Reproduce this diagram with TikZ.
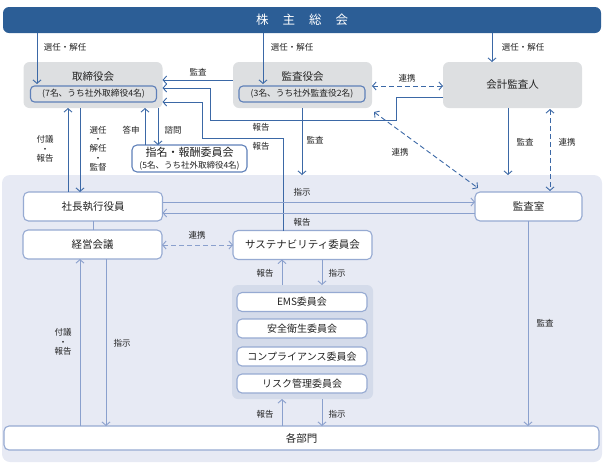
\documentclass[tikz,border=0pt]{standalone}
\usepackage{fontspec}
\setmainfont{Noto Sans CJK JP}
\usetikzlibrary{arrows.meta}
\definecolor{barblue}{RGB}{44,94,150}
\definecolor{dline}{RGB}{59,104,166}
\definecolor{lline}{RGB}{138,160,205}
\definecolor{gbox}{RGB}{221,223,225}
\definecolor{lowbg}{RGB}{231,234,244}
\definecolor{grpbg}{RGB}{212,219,234}
\definecolor{wborder}{RGB}{150,170,210}
\definecolor{iborder}{RGB}{95,128,185}
\definecolor{txt}{RGB}{34,34,34}
\begin{document}
\begin{tikzpicture}[x=1pt,y=-1pt,
  every node/.style={text=txt, inner sep=0pt, outer sep=0pt},
  graybox/.style={fill=gbox, rounded corners=6pt, minimum width=139, minimum height=46},
  innerbox/.style={draw=iborder, line width=1.1pt, rounded corners=4pt, minimum width=126, minimum height=16, font=\fontsize{8.7}{10}\selectfont},
  ttl/.style={font=\fontsize{10.5}{12}\selectfont},
  wbox/.style={draw=wborder, line width=1.1pt, fill=white, rounded corners=5pt, minimum height=29, font=\fontsize{10.5}{12}\selectfont},
  cbox/.style={draw=wborder, line width=1.1pt, fill=white, rounded corners=5pt, minimum width=130, minimum height=19, font=\fontsize{10}{11}\selectfont},
  lbl/.style={font=\fontsize{8.5}{9.3}\selectfont, align=center},
  tip/.style={-{Straight Barb[length=3.5pt,width=8pt]}},
  dtip/.style={{Straight Barb[length=3.5pt,width=8pt]}-{Straight Barb[length=3.5pt,width=8pt]}},
  darr/.style={draw=dline, line width=0.9pt, tip},
  larr/.style={draw=lline, line width=0.9pt, tip},
  dplain/.style={draw=dline, line width=0.9pt},
  lplain/.style={draw=lline, line width=0.9pt},
  ddash/.style={draw=dline, line width=0.9pt, dash pattern=on 5pt off 3pt, dtip},
  ldash/.style={draw=lline, line width=0.9pt, dash pattern=on 5pt off 3pt, dtip}
]
\useasboundingbox (0,0) rectangle (604,467);

% lower background
\node[fill=lowbg, rounded corners=8pt, minimum width=600, minimum height=287] (lower) at (302,318.5) {};

% top bar
\node[fill=barblue, rounded corners=6pt, minimum width=598, minimum height=26,
      text=white, font=\fontsize{12.5}{14}\selectfont] (bar) at (302,20)
  {株\hspace{14pt}主\hspace{14pt}総\hspace{14pt}会};

% upper boxes
\node[graybox] (tb) at (93,85) {};
\node[ttl] (tbt) at (93,77) {取締役会};
\node[innerbox] (tbin) at (93.5,94) {(7名、うち社外取締役4名)};

\node[graybox] (ka) at (302.5,85) {};
\node[ttl] (kat) at (302.5,77) {監査役会};
\node[innerbox] (kain) at (302,94) {(3名、うち社外監査役2名)};

\node[graybox, ttl] (ak) at (512.5,85) {会計監査人};

\node[draw=iborder, line width=1.1pt, fill=white, rounded corners=5pt,
      minimum width=115, minimum height=27, align=center] (sm) at (189.5,158.5)
  {{\fontsize{11}{11.5}\selectfont 指名・報酬委員会}\\[-0.5pt]{\fontsize{8.5}{9}\selectfont (5名、うち社外取締役4名)}};

% lower boxes
\node[wbox, minimum width=139] (sh) at (93,206.5) {社長執行役員};
\node[wbox, minimum width=139] (kk) at (92.5,244.5) {経営会議};
\node[wbox, minimum width=139] (su) at (302.5,245) {サステナビリティ委員会};
\node[wbox, minimum width=107] (ks) at (528.5,206.5) {監査室};

\node[fill=grpbg, rounded corners=6pt, minimum width=141, minimum height=114] (grp) at (302.5,342) {};
\node[cbox] (c1) at (302,302) {EMS委員会};
\node[cbox] (c2) at (302,328.5) {安全衛生委員会};
\node[cbox] (c3) at (302,356.5) {コンプライアンス委員会};
\node[cbox] (c4) at (302,383.5) {リスク管理委員会};

\node[wbox, minimum width=595, minimum height=24] (bumon) at (301.5,438) {各部門};

% dark connectors
\draw[darr, shorten >=2pt] (bar.south -| 37,0) -- (tbin.north -| 37,0);
\draw[darr, shorten >=2pt] (bar.south -| 263,0) -- (kain.north -| 263,0);
\draw[darr] (bar.south -| 492,0) -- (ak.north -| 492,0);
\draw[darr] (ka.west |- 0,80) -- (tb.east |- 0,80);
\draw[ddash] (ka.east |- 0,86) -- (ak.west |- 0,86);
\draw[darr] (ak.west |- 0,97) -| (396,120) -| (210,88) -- (tb.east |- 0,88);
\draw[darr] (su.north -| 283,0) |- (202,138) |- (tb.east |- 0,102);
\draw[darr] (ka.south -| 302,0) -- (lower.north -| 302,0);
\draw[ddash] ([shift={(2,4)}]ka.south east) -- ([shift={(3,-4)}]ks.north west);
\draw[darr] (ak.south -| 508,0) -- (lower.north -| 508,0);
\draw[ddash, shorten <=1pt, shorten >=1pt] (ak.south -| 550,0) -- (ks.north -| 550,0);
\draw[darr] (sh.north -| 68,0) -- (tb.south -| 68,0);
\draw[darr] (tb.south -| 80,0) -- (sh.north -| 80,0);
\draw[darr] (sm.north -| 145,0) -- (tb.south -| 145,0);
\draw[darr] (tb.south -| 158,0) -- (sm.north -| 158,0);

% light connectors
\draw[lplain] (sh.south -| 93,0) -- (kk.north -| 93,0);
\draw[larr] (sh.east |- 0,202) -- (ks.west |- 0,202);
\draw[larr] (ks.west |- 0,213) -- (sh.east |- 0,213);
\draw[ldash] (kk.east |- 0,245) -- (su.west |- 0,245);
\draw[larr] (grp.north -| 282,0) -- (su.south -| 282,0);
\draw[larr] (su.south -| 322,0) -- (grp.north -| 322,0);
\draw[larr] (bumon.north -| 282,0) -- (grp.south -| 282,0);
\draw[larr] (grp.south -| 322,0) -- (bumon.north -| 322,0);
\draw[larr] (bumon.north -| 80,0) -- (kk.south -| 80,0);
\draw[larr] (kk.south -| 106,0) -- (bumon.north -| 106,0);
\draw[larr] (ks.south -| 528,0) -- (bumon.north -| 528,0);

% labels
\node[lbl] (l1) at (65,47) {選任・解任};
\node[lbl] (l2) at (292,47) {選任・解任};
\node[lbl] (l3) at (523,47) {選任・解任};
\node[lbl] (l4) at (198,72) {監査};
\node[lbl] (l5) at (407,78) {連携};
\node[lbl] (l6) at (261,127) {報告};
\node[lbl] (l7) at (261,146) {報告};
\node[lbl] (l8) at (315,140) {監査};
\node[lbl] (l9) at (400,152) {連携};
\node[lbl] (l10) at (525,142) {監査};
\node[lbl] (l11) at (567,142) {連携};
\node[lbl] (l12) at (45,149) {付議\\・\\報告};
\node[lbl] (l13) at (98,148.5) {選任\\・\\解任\\・\\監督};
\node[lbl] (l14) at (131,130) {答申};
\node[lbl] (l15) at (173,130) {諮問};
\node[lbl] (l16) at (302,192) {指示};
\node[lbl] (l17) at (302,222) {報告};
\node[lbl] (l18) at (197,235) {連携};
\node[lbl] (l19) at (265,273) {報告};
\node[lbl] (l20) at (337,273) {指示};
\node[lbl] (l21) at (265,414) {報告};
\node[lbl] (l22) at (337,414) {指示};
\node[lbl] (l23) at (63,342) {付議\\・\\報告};
\node[lbl] (l24) at (122,343) {指示};
\node[lbl] (l25) at (545,323) {監査};
\end{tikzpicture}
\end{document}
